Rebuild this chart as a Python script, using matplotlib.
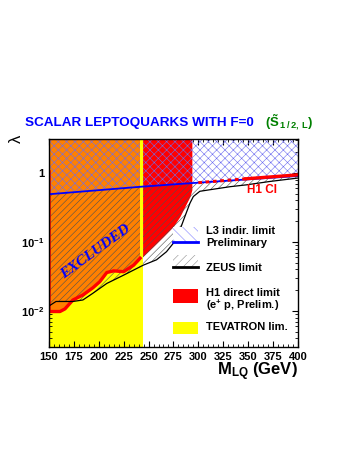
import numpy as np
import matplotlib
matplotlib.use("Agg")
import matplotlib.pyplot as plt
from matplotlib.patches import Rectangle
from matplotlib.ticker import FixedLocator, FixedFormatter, LogLocator, MultipleLocator, NullFormatter

plt.rcParams["font.family"] = ["Liberation Sans", "DejaVu Sans"]
plt.rcParams["font.weight"] = "bold"
plt.rcParams["mathtext.fontset"] = "custom"
plt.rcParams["mathtext.rm"] = "Liberation Sans:bold"
plt.rcParams["mathtext.it"] = "Liberation Sans:bold"
plt.rcParams["mathtext.bf"] = "Liberation Sans:bold"
plt.rcParams["hatch.linewidth"] = 0.4

# ---- values ----
tev_limit = 242.5

# H1 direct limit, part below the Tevatron limit (orange area)
h1_left_mass = [150, 161, 166, 174, 184, 194, 201, 208, 215, 225, 235, 241.5]
h1_left_lam = [0.0098, 0.0098, 0.0107, 0.0144, 0.017, 0.0216, 0.0265, 0.036, 0.038, 0.037, 0.046, 0.058]
h1_left_top = 1.03   # red edge along M=150 stops here

# H1 direct limit, part above the Tevatron limit (red area)
h1_right_mass = [244, 254.7, 264.8, 274.8, 281.5, 286.5, 291.6, 293.5]
h1_right_lam = [0.061, 0.0855, 0.119, 0.167, 0.233, 0.325, 0.454, 0.567]

# ZEUS limit
zeus_mass = [150, 157, 174, 184, 194, 208, 225, 244.7, 258, 268, 275, 281.5, 286.5, 291.6, 295, 301.5, 312, 332,
             348.5, 372, 400]
zeus_lam = [0.0118, 0.0137, 0.0137, 0.0144, 0.018, 0.025, 0.033, 0.046, 0.055, 0.072, 0.096, 0.149, 0.233, 0.364,
            0.454, 0.54, 0.57, 0.63, 0.67, 0.75, 0.84]

# L3 indirect limit
l3_mass = [150, 243, 281, 400]
l3_lam = [0.49, 0.63, 0.69, 0.9]

# H1 contact interaction limit (first segment dotted)
ci_mass = [300, 348, 400]
ci_lam = [0.72, 0.82, 0.935]

LAM_MIN, LAM_MAX = 0.003, 3.1

fig = plt.figure(figsize=(3.58, 4.63), dpi=100)
ax = fig.add_axes([0.137, 0.2505, 0.695, 0.4495])
ax.set_yscale("log")
ax.set_xlim(150, 400)
ax.set_ylim(LAM_MIN, LAM_MAX)

# Tevatron excluded band
ax.fill_between([150, tev_limit], LAM_MIN, LAM_MAX, color="#ffff00", lw=0, zorder=1)

# H1 direct: orange below Tevatron limit, red above
ax.fill_between(h1_left_mass, h1_left_lam, LAM_MAX, color="#ff8000", lw=0, zorder=2)
ax.fill_between(h1_right_mass, h1_right_lam, LAM_MAX, color="#ff0000", lw=0, zorder=2)

# hatched regions (interpolate in log space on a fine grid just for the fills)
grid = np.linspace(150, 400, 501)
zeus_i = 10 ** np.interp(grid, zeus_mass, np.log10(zeus_lam))
l3_i = 10 ** np.interp(grid, l3_mass, np.log10(l3_lam))
ax.fill_between(grid, zeus_i, l3_i, where=l3_i > zeus_i, hatch="/////", facecolor="none",
                edgecolor="#505050", lw=0, zorder=3)
ax.fill_between(grid, l3_i, LAM_MAX, hatch="xxxx", facecolor="none", edgecolor="#6c6cf0", lw=0, zorder=3)

# Tevatron limit line on top
ax.fill_between([tev_limit - 1.2, tev_limit + 1.5], LAM_MIN, LAM_MAX, color="#ffff00", lw=0, zorder=4)

# outlines
ax.plot([150] + h1_left_mass, [h1_left_top] + h1_left_lam, color="#ff0000", lw=2.4, zorder=5,
        solid_joinstyle="round")
ax.plot(zeus_mass, zeus_lam, color="black", lw=0.9, zorder=6)
ax.plot(l3_mass, l3_lam, color="#0000ff", lw=1.3, zorder=6)
ax.plot(ci_mass[:2], ci_lam[:2], color="#ff0000", lw=2.2, ls=(0, (1.2, 1.2)), zorder=7)
ax.plot(ci_mass[1:], ci_lam[1:], color="#ff0000", lw=2.4, zorder=7)

ax.text(364, 0.56, "H1 CI", color="#ff0000", fontsize=8.5, fontweight="bold", ha="center", va="center", zorder=8)
ax.text(197, 0.072, "EXCLUDED", color="#0000ff", fontsize=11, fontweight="bold", fontstyle="italic",
        family=["Liberation Serif"], rotation=36, ha="center", va="center", zorder=8)

# legend drawn by hand
lx, lw_ = 0.498, 0.1
tx = 0.63
ax.add_patch(Rectangle((lx, 0.503), lw_, 0.075, transform=ax.transAxes, hatch="\\\\\\",
                       facecolor="white", edgecolor="#8080ff", lw=0, zorder=8))
ax.plot([lx, lx + lw_], [0.503, 0.503], transform=ax.transAxes, color="#0000ff", lw=2, zorder=9)
ax.add_patch(Rectangle((lx, 0.383), lw_, 0.059, transform=ax.transAxes, hatch="////",
                       facecolor="white", edgecolor="#909090", lw=0, zorder=8))
ax.plot([lx, lx + lw_], [0.383, 0.383], transform=ax.transAxes, color="black", lw=2, zorder=9)
ax.add_patch(Rectangle((lx, 0.210), lw_, 0.069, transform=ax.transAxes, facecolor="#ff0000", lw=0, zorder=8))
ax.add_patch(Rectangle((lx, 0.0625), lw_, 0.0595, transform=ax.transAxes, facecolor="#ffff00", lw=0, zorder=8))

legend_fs = 8
ax.text(tx, 0.558, "L3 indir. limit", transform=ax.transAxes, fontsize=legend_fs, va="center", zorder=9)
ax.text(tx, 0.499, "Preliminary", transform=ax.transAxes, fontsize=legend_fs, va="center", zorder=9)
ax.text(tx, 0.378, "ZEUS limit", transform=ax.transAxes, fontsize=legend_fs, va="center", zorder=9)
ax.text(tx, 0.260, "H1 direct limit", transform=ax.transAxes, fontsize=legend_fs, va="center", zorder=9)
ax.text(tx, 0.199, r"(e$^{+}$ p, Prelim.)", transform=ax.transAxes, fontsize=legend_fs, va="center", zorder=9)
ax.text(tx, 0.098, "TEVATRON lim.", transform=ax.transAxes, fontsize=legend_fs, va="center", zorder=9)

# axes styling
ax.xaxis.set_major_locator(MultipleLocator(25))
ax.xaxis.set_minor_locator(MultipleLocator(5))
ax.yaxis.set_major_locator(FixedLocator([0.01, 0.1, 1]))
ax.yaxis.set_major_formatter(FixedFormatter([r"$10^{-2}$", r"$10^{-1}$", "1"]))
ax.yaxis.set_minor_locator(LogLocator(base=10, subs=np.arange(2, 10)))
ax.yaxis.set_minor_formatter(NullFormatter())
ax.tick_params(which="both", direction="in", top=True, right=True, labelsize=8)
ax.tick_params(which="major", length=4, width=0.8)
ax.tick_params(which="minor", length=2, width=0.6)
for s in ax.spines.values():
    s.set_linewidth(1)
    s.set_zorder(10)

fig.text(0.832, 0.197, r"M$_{\mathrm{LQ}}$ (GeV)", fontsize=12, fontweight="bold", ha="right", va="center")
fig.text(0.047, 0.70, "λ", fontsize=12, fontweight="normal", rotation=90, ha="center", va="center")
fig.text(0.07, 0.734, "SCALAR LEPTOQUARKS WITH F=0", color="#0000ff", fontsize=9.7, fontweight="bold",
         ha="left", va="center")
fig.text(0.74, 0.734, r"($\tilde{\mathrm{S}}_{\,1\,/\,2,\;L}$)", color="#008000", fontsize=9.5, ha="left",
         va="center")

fig.savefig("out.png", dpi=100)
